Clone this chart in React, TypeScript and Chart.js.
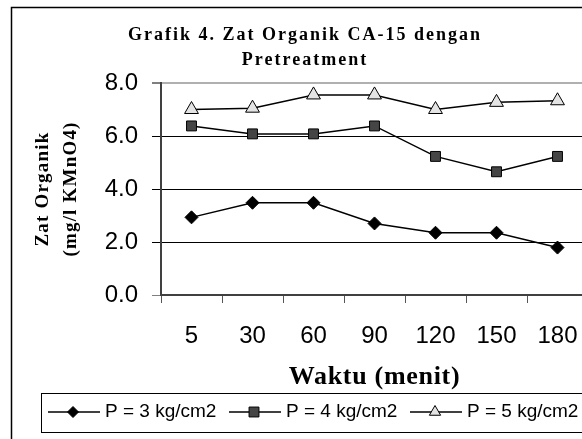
import React, { useEffect, useRef } from 'react';
import { Chart, registerables } from 'chart.js';

Chart.register(...registerables);

const categories = ['5', '30', '60', '90', '120', '150', '180'];
const p3Values = [2.93, 3.48, 3.48, 2.7, 2.35, 2.35, 1.79];
const p4Values = [6.38, 6.08, 6.08, 6.38, 5.23, 4.65, 5.23];
const p5Values = [7.0, 7.05, 7.55, 7.55, 7.0, 7.27, 7.33];
const seriesLabels = ['P = 3 kg/cm2', 'P = 4 kg/cm2', 'P = 5 kg/cm2'];
const titleLines = ['Grafik 4. Zat Organik CA-15 dengan', 'Pretreatment'];
const yTitleLines = ['Zat Organik', '(mg/l KMnO4)'];
const xTitle = 'Waktu (menit)';
const yMin = 0;
const yMax = 8;
const yStep = 2;

const SANS = '"Liberation Sans", Arial, sans-serif';
const SERIF = '"Liberation Serif", "Times New Roman", serif';

const markerStyles = [
  { style: 'rectRot', radius: 6.5, fill: '#000000', legendRadius: 5.5 },
  { style: 'rect', radius: 7, fill: '#454545', legendRadius: 7 },
  { style: 'triangle', radius: 8, fill: '#e4e4e4', legendRadius: 6.5 },
];

function drawMarker(ctx: CanvasRenderingContext2D, style: string, x: number, y: number, r: number, fill: string) {
  ctx.beginPath();
  if (style === 'rectRot') {
    ctx.moveTo(x - r, y);
    ctx.lineTo(x, y - r);
    ctx.lineTo(x + r, y);
    ctx.lineTo(x, y + r);
  } else if (style === 'rect') {
    const s = Math.SQRT1_2 * r;
    ctx.rect(x - s, y - s, 2 * s, 2 * s);
  } else {
    ctx.moveTo(x, y - r);
    ctx.lineTo(x + r * Math.sin(Math.PI * 2 / 3), y + r / 2);
    ctx.lineTo(x - r * Math.sin(Math.PI * 2 / 3), y + r / 2);
  }
  ctx.closePath();
  ctx.fillStyle = fill;
  ctx.fill();
  ctx.strokeStyle = '#000';
  ctx.lineWidth = 1;
  ctx.stroke();
}

const decorPlugin = {
  id: 'decor',
  beforeDraw(chart: any) {
    const ctx = chart.ctx;
    ctx.save();
    ctx.fillStyle = '#fff';
    ctx.fillRect(0, 0, chart.width, chart.height);
    ctx.restore();
  },
  afterDraw(chart: any) {
    const ctx: CanvasRenderingContext2D = chart.ctx;
    const area = chart.chartArea;
    ctx.save();
    // outer frame
    ctx.strokeStyle = '#000';
    ctx.lineWidth = 1.5;
    ctx.strokeRect(11.5, 7.5, 586, 440);

    // title
    ctx.fillStyle = '#000';
    ctx.textAlign = 'center';
    ctx.textBaseline = 'middle';
    ctx.font = `bold 18px ${SERIF}`;
    (ctx as any).letterSpacing = '2px';
    ctx.fillText(titleLines[0], 305, 35);
    ctx.fillText(titleLines[1], 305, 60);

    // y title
    ctx.font = `bold 19px ${SERIF}`;
    (ctx as any).letterSpacing = '1.2px';
    const cy = (area.top + area.bottom) / 2;
    [43, 71].forEach((x, i) => {
      ctx.save();
      ctx.translate(x, cy);
      ctx.rotate(-Math.PI / 2);
      ctx.fillText(yTitleLines[i], 0, 0);
      ctx.restore();
    });

    // x title
    ctx.font = `bold 26px ${SERIF}`;
    (ctx as any).letterSpacing = '0.7px';
    ctx.fillText(xTitle, (area.left + area.right) / 2, 377);

    // legend
    (ctx as any).letterSpacing = '0px';
    ctx.strokeStyle = '#000';
    ctx.lineWidth = 1;
    ctx.strokeRect(41.5, 393.5, 600, 39);
    const ly = 412;
    chart.data.datasets.forEach((ds: any, i: number) => {
      const x0 = 48 + i * 181;
      ctx.beginPath();
      ctx.moveTo(x0, ly);
      ctx.lineTo(x0 + 52, ly);
      ctx.strokeStyle = '#000';
      ctx.lineWidth = 1.5;
      ctx.stroke();
      const m = markerStyles[i];
      drawMarker(ctx, m.style, x0 + 25, ly, m.legendRadius, m.fill);
      ctx.fillStyle = '#000';
      ctx.font = `19px ${SANS}`;
      ctx.textAlign = 'left';
      ctx.textBaseline = 'middle';
      ctx.fillText(ds.label, x0 + 57, ly);
    });
    ctx.restore();
  },
};

export default function App() {
  const ref = useRef<HTMLCanvasElement>(null);
  useEffect(() => {
    const seriesData = [p3Values, p4Values, p5Values];
    const chart = new Chart(ref.current as HTMLCanvasElement, {
      type: 'line',
      data: {
        labels: categories,
        datasets: seriesData.map((d, i) => ({
          label: seriesLabels[i],
          data: d,
          borderColor: '#000',
          borderWidth: 1.5,
          tension: 0,
          fill: false,
          pointStyle: markerStyles[i].style as any,
          pointRadius: markerStyles[i].radius,
          pointBackgroundColor: markerStyles[i].fill,
          pointBorderColor: '#000',
          pointBorderWidth: 1,
        })),
      },
      options: {
        responsive: false,
        animation: false,
        devicePixelRatio: 1,
        layout: { padding: { left: 0, top: 83, right: 22, bottom: 95 } },
        plugins: {
          legend: { display: false },
          title: { display: false },
          tooltip: { enabled: false },
        },
        scales: {
          x: {
            type: 'category',
            offset: true,
            grid: {
              offset: true,
              drawOnChartArea: false,
              drawTicks: true,
              tickLength: 8,
              color: '#555',
              lineWidth: 1,
            },
            border: { display: true, color: '#404040', width: 2 },
            ticks: {
              font: { family: SANS, size: 24 },
              color: '#000',
              padding: 19,
              maxRotation: 0,
              autoSkip: false,
            },
            afterFit: (s: any) => {
              s.height = 60;
            },
          },
          y: {
            min: yMin,
            max: yMax,
            ticks: {
              stepSize: yStep,
              callback: (v: any) => Number(v).toFixed(1),
              font: { family: SANS, size: 24 },
              color: '#000',
              padding: 14,
            },
            grid: {
              color: (c: any) =>
                c.tick && c.tick.value === yMax ? '#b0b0b0' : c.tick && c.tick.value === yMin ? 'rgba(0,0,0,0)' : '#000',
              lineWidth: (c: any) => (c.tick && c.tick.value === yMax ? 2 : 1),
              tickColor: (c: any) => (c.tick && c.tick.value === yMin ? '#808080' : '#000'),
              tickWidth: 1,
              tickLength: 9,
            },
            border: { display: true, color: '#404040', width: 2 },
            afterFit: (s: any) => {
              s.width = 161;
            },
          },
        },
      },
      plugins: [decorPlugin],
    });
    return () => chart.destroy();
  }, []);
  return (
    <div
      style={{
        position: 'fixed',
        left: 0,
        top: 0,
        width: 582,
        height: 439,
        overflow: 'hidden',
        background: '#fff',
      }}
    >
      <canvas ref={ref} width={610} height={450} style={{ display: 'block', width: 610, height: 450 }} />
    </div>
  );
}
